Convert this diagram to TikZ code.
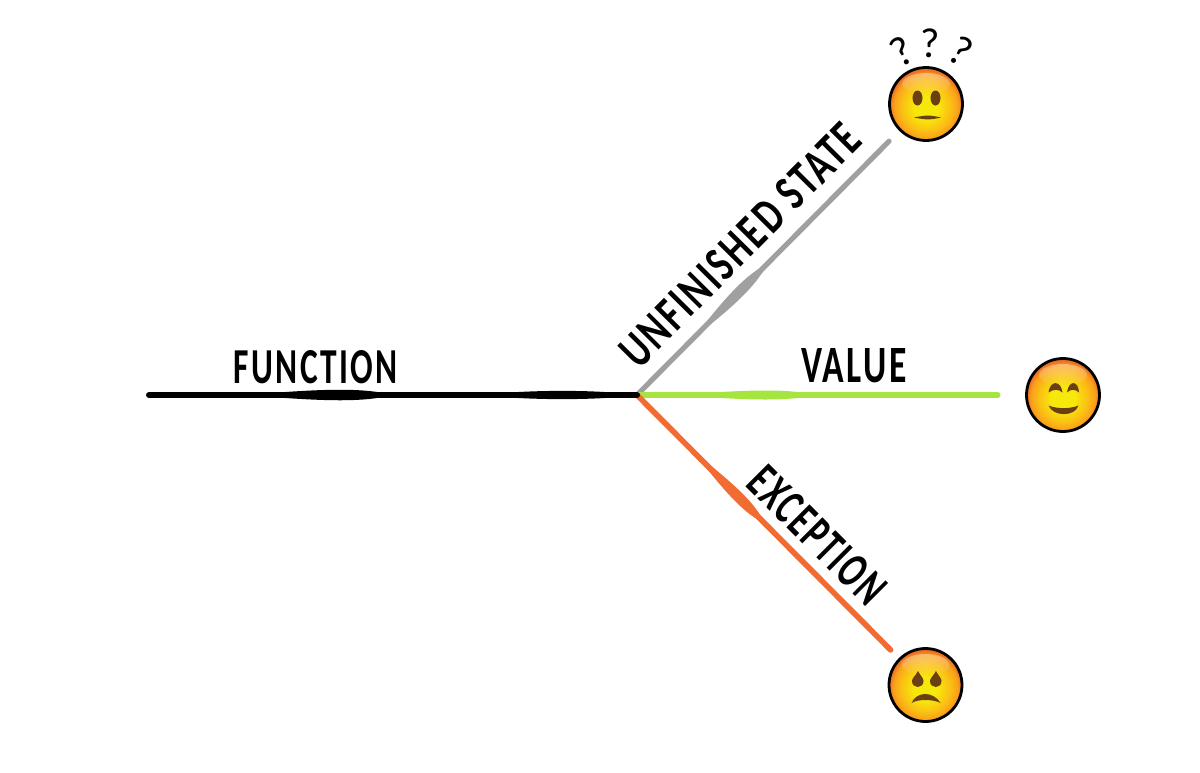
\documentclass[tikz,border=0pt]{standalone}
\usepackage{fontspec}
\usepackage{graphicx}
\setmainfont{Carlito}[LetterSpace=7]
\newfontfamily\qfont{Carlito}
\usetikzlibrary{calc,fadings}
\definecolor{lgray}{HTML}{A0A0A0}
\definecolor{lgreen}{HTML}{A6E43F}
\definecolor{lorange}{HTML}{F06C33}
\definecolor{feat}{HTML}{6A4012}
\definecolor{fy}{HTML}{F7E80C}
\definecolor{fm}{HTML}{FBBE14}
\definecolor{fo}{HTML}{F9A01B}
\definecolor{fr}{HTML}{EE6F22}
\pgfdeclareradialshading{facegrad}{\pgfpoint{0bp}{-3bp}}{color(0bp)=(fy); color(8bp)=(fy); color(17bp)=(fm); color(22bp)=(fo); color(25bp)=(fr); color(50bp)=(fr)}
\newcommand{\hand}[3]{\resizebox{\dimexpr #1pt/2\relax}{\dimexpr #2pt/2\relax}{\textbf{#3}}}
% lens: a, b, colour, start t, control t1, control t2, end t, control half-width
\newcommand{\lens}[8]{\fill[#3] ($(#1)!#4!(#2)$) .. controls ($(#1)!#5!(#2)!#8*0.5pt!90:(#2)$) and ($(#1)!#6!(#2)!#8*0.5pt!90:(#2)$) .. ($(#1)!#7!(#2)$) .. controls ($(#1)!#6!(#2)!#8*0.5pt!-90:(#2)$) and ($(#1)!#5!(#2)!#8*0.5pt!-90:(#2)$) .. cycle;}
\tikzset{
  x=0.5pt,y=-0.5pt,
  stroke/.style={line width=3pt,line cap=round},
  facenode/.style={circle,draw=black,line width=1.4pt,minimum size=36.5pt,inner sep=0pt,outer sep=0pt,shading=facegrad},
  gloss/.style={fill=white,fill opacity=0.35,path fading=south},
  textlabel/.style={inner sep=0pt,outer sep=0pt,text=black},
  qmark/.style={inner sep=0pt,outer sep=0pt,text=black,font=\qfont\fontsize{21pt}{21pt}\selectfont},
}
\begin{document}
\begin{tikzpicture}
\useasboundingbox (0,0) rectangle (1200,772);
\fill[white] (0,0) rectangle (1200,772);
\coordinate (hub) at (637,395);
\coordinate (fstart) at (149,395);
\node[facenode] (neutral) at (926,104) {};
\node[facenode] (happy) at (1063,395) {};
\node[facenode] (sad) at (925.5,685) {};
% connectors
\draw[stroke,lgray,line width=2.6pt,shorten >=8pt] (hub) -- (neutral);
\lens{hub}{neutral}{lgray}{0.20}{0.33}{0.40}{0.45}{7}
\draw[stroke,lgreen,shorten >=14.5pt] (hub) -- (happy);
\lens{hub}{happy}{lgreen}{0.10}{0.27}{0.36}{0.42}{6}
\draw[stroke,lorange,line width=2.8pt,shorten >=6.5pt] (hub) -- (sad);
\lens{hub}{sad}{lorange}{0.20}{0.33}{0.40}{0.44}{7}
\draw[stroke,black] (fstart) -- (hub);
\lens{fstart}{hub}{black}{0.20}{0.37}{0.44}{0.50}{7}
\lens{fstart}{hub}{black}{0.68}{0.78}{0.92}{1.0}{5.5}
% texts
\node[textlabel] (tf) at (317,367) {\hand{166}{33}{FUNCTION}};
\node[textlabel] (tv) at (855,366) {\hand{108}{34}{VALUE}};
\node[textlabel,rotate=45.3] (tu) at (741,244) {\hand{323}{33}{UNFINISHED STATE}};
\node[textlabel,rotate=-45] (te) at (818,536) {\hand{175}{33}{EXCEPTION}};
\node[qmark,rotate=30] (q1) at (902,51) {?};
\node[qmark] (q2) at (930,43) {?};
\node[qmark,rotate=-30] (q3) at (961,51) {?};
% neutral face
\begin{scope}[shift={(neutral.center)}]
\fill[gloss] (0,-20) ellipse [x radius=24,y radius=11];
\fill[feat] (-8.5,-6) ellipse [x radius=5,y radius=7.5];
\fill[feat] (9.5,-6) ellipse [x radius=5,y radius=7.5];
\fill[feat] (-12,13.5) .. controls (0,11) and (4,11) .. (15,13.5) .. controls (4,16) and (0,16) .. cycle;
\end{scope}
% happy face
\begin{scope}[shift={(happy.center)}]
\fill[gloss] (0,-20) ellipse [x radius=24,y radius=11];
\fill[feat] (-14.5,-2.5) .. controls (-13,-15) and (-2,-15) .. (-0.5,-2.5) .. controls (-4,-6) and (-10,-6) .. cycle;
\fill[feat] (4,-2.5) .. controls (5.5,-15) and (15.5,-15) .. (16,-2.5) .. controls (13,-6) and (7,-6) .. cycle;
\fill[feat] (-14.5,10.5) .. controls (-6,14) and (7,14) .. (15.5,10.5) .. controls (12,22) and (-10,22) .. cycle;
\end{scope}
% sad face
\begin{scope}[shift={(sad.center)}]
\fill[gloss] (0,-20) ellipse [x radius=24,y radius=11];
\fill[feat] (-7.5,-14) .. controls (-5,-9) and (-2,-7) .. (-2,-4) .. controls (-2,4) and (-13.5,4) .. (-13.5,-4) .. controls (-13.5,-7) and (-10,-9) .. cycle;
\fill[feat] (10.5,-14) .. controls (13,-9) and (16,-7) .. (16,-4) .. controls (16,4) and (4.5,4) .. (4.5,-4) .. controls (4.5,-7) and (8,-9) .. cycle;
\fill[feat] (-14,18) .. controls (-9,6) and (8,6) .. (15,18) .. controls (8,14) and (-8,14) .. cycle;
\end{scope}
\end{tikzpicture}
\end{document}
